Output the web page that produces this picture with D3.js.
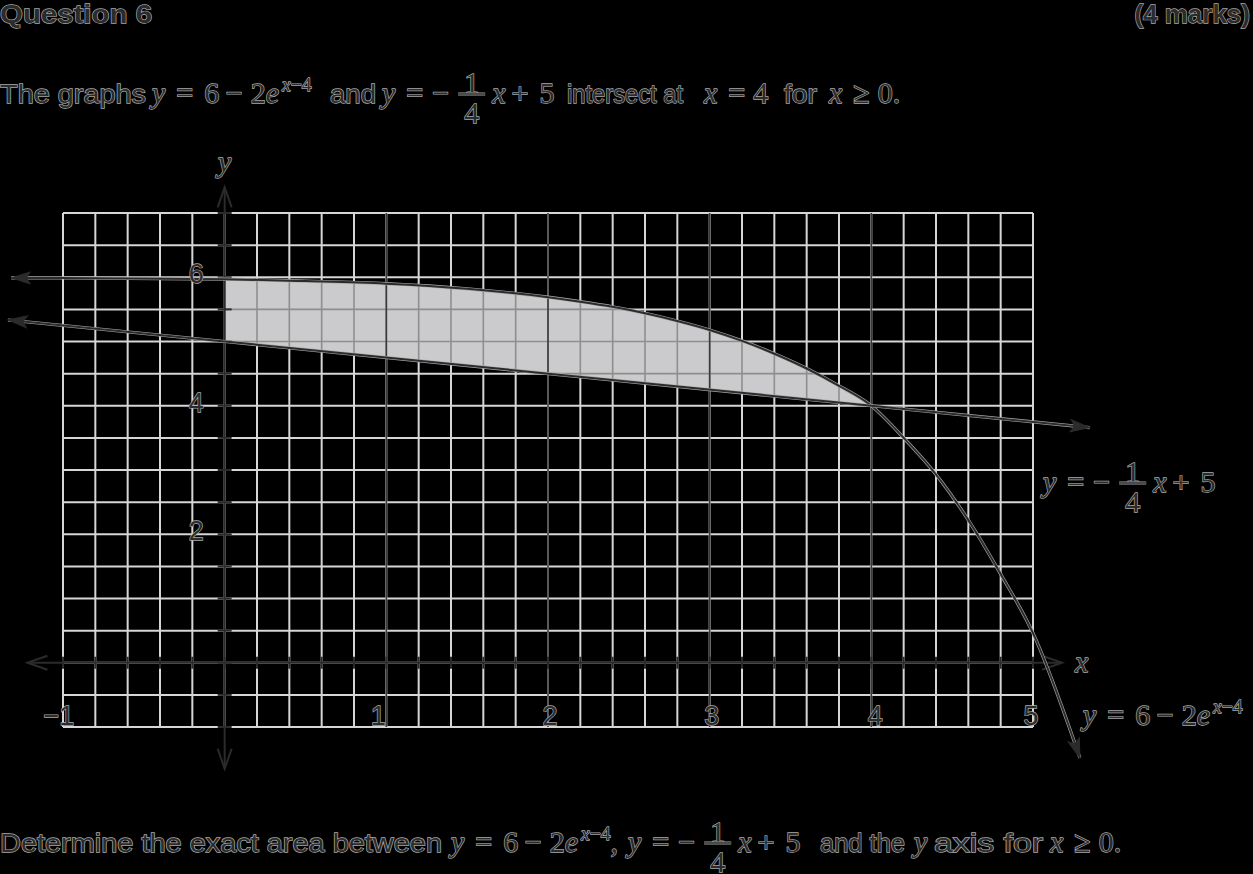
<!DOCTYPE html>
<html><head><meta charset="utf-8">
<script src="https://cdn.jsdelivr.net/npm/d3@7"></script>
<style>
html,body{margin:0;padding:0;background:#000;}
svg{display:block;}
</style></head>
<body>
<svg id="c" width="1253" height="874"></svg>
<script>
// ---------------- data ----------------
// curve y = 6 - 2e^(x-4)
const curveX = [-1.32, -1, 0, 0.5, 1, 1.5, 2, 2.2, 2.4, 2.6, 2.8, 3, 3.2, 3.4, 3.6, 3.8, 4, 4.2, 4.4, 4.6, 4.8, 5, 5.29];
const curveY = [5.99, 5.99, 5.97, 5.94, 5.90, 5.82, 5.69, 5.62, 5.54, 5.44, 5.32, 5.18, 5.01, 4.81, 4.58, 4.31, 4.0, 3.50, 2.93, 2.22, 1.38, 0.46, -1.48];
// line y = -x/4 + 5
const lineX = [-1.34, 0, 4, 5.35];
const lineY = [5.335, 5, 4, 3.66];
// shaded region between the graphs
const shadeFrom = 0, shadeTo = 4;
// axis tick labels
const xTickValues = [-1, 1, 2, 3, 4, 5];
const xTickLabels = ["\u22121", "1", "2", "3", "4", "5"];
const yTickValues = [2, 4, 6];
const yTickLabels = ["2", "4", "6"];
// grid extents / steps
const xDomain = [-1, 5], yDomain = [-1, 7];
const xMinor = 0.2, yMinor = 0.5;

// ---------------- setup ----------------
const svg = d3.select('#c');
const SANS = "'Liberation Sans', Arial, Helvetica, sans-serif";
const SERIF = "'Liberation Serif', 'Times New Roman', serif";
const INK = '#2b2b2b', HALO = '#a9a9a9';
const GRID = '#d6d6d6', GRID_IN = '#8e8e8e', FILL = '#cbcbcd';

svg.append('rect').attr('width', 1253).attr('height', 874).attr('fill', '#000');

const x = d3.scaleLinear().domain(xDomain).range([63, 1033]);
const y = d3.scaleLinear().domain(yDomain).range([727, 213]);

const gridXs = d3.range(Math.round((xDomain[1] - xDomain[0]) / xMinor) + 1).map(i => +(xDomain[0] + i * xMinor).toFixed(4));
const gridYs = d3.range(Math.round((yDomain[1] - yDomain[0]) / yMinor) + 1).map(i => +(yDomain[0] + i * yMinor).toFixed(4));

const defs = svg.append('defs');
function marker(id, path, filled) {
  defs.append('marker').attr('id', id).attr('viewBox', '-22 -9 26 18')
    .attr('refX', 0).attr('refY', 0).attr('markerWidth', 26).attr('markerHeight', 18)
    .attr('markerUnits', 'userSpaceOnUse').attr('orient', 'auto-start-reverse')
    .append('path').attr('d', path)
    .attr('fill', filled ? INK : 'none').attr('stroke', INK).attr('stroke-width', filled ? 1 : 2)
    .attr('stroke-linejoin', 'miter');
}
marker('arrFill', 'M-19,-6 L0,0 L-19,6 L-15,0 Z', true);
marker('arrOpen', 'M-20,-7 L0,0 L-20,7', false);

const gChart = svg.append('g');

// grid (light)
const grid = gChart.append('g');
grid.selectAll('line.v').data(gridXs).join('line').attr('class', 'v')
  .attr('x1', d => x(d)).attr('x2', d => x(d)).attr('y1', y(yDomain[1])).attr('y2', y(yDomain[0]))
  .attr('stroke', GRID).attr('stroke-width', 2);
grid.selectAll('line.h').data(gridYs).join('line').attr('class', 'h')
  .attr('y1', d => y(d)).attr('y2', d => y(d)).attr('x1', x(xDomain[0])).attr('x2', x(xDomain[1]))
  .attr('stroke', GRID).attr('stroke-width', 2);

// shaded region
const curvePts = curveX.map((v, i) => [v, curveY[i]]);
const linePts = lineX.map((v, i) => [v, lineY[i]]);
const topPts = curvePts.filter(p => p[0] >= shadeFrom && p[0] <= shadeTo);
const botPts = linePts.filter(p => p[0] >= shadeFrom && p[0] <= shadeTo).slice().reverse();
const lineGen = d3.line().x(p => x(p[0])).y(p => y(p[1]));
const smooth = d3.line().x(p => x(p[0])).y(p => y(p[1])).curve(d3.curveMonotoneX);
const shadePath = smooth(topPts) + lineGen(botPts).replace('M', 'L') + 'Z';
defs.append('clipPath').attr('id', 'shadeClip').append('path').attr('d', shadePath);
gChart.append('path').attr('d', shadePath).attr('fill', FILL);

// grid inside the shading (darker)
const gridIn = gChart.append('g').attr('clip-path', 'url(#shadeClip)');
gridIn.selectAll('line.v').data(gridXs).join('line')
  .attr('x1', d => x(d)).attr('x2', d => x(d)).attr('y1', y(yDomain[1])).attr('y2', y(yDomain[0]))
  .attr('stroke', GRID_IN).attr('stroke-width', 1.6);
gridIn.selectAll('line.h').data(gridYs).join('line')
  .attr('y1', d => y(d)).attr('y2', d => y(d)).attr('x1', x(xDomain[0])).attr('x2', x(xDomain[1]))
  .attr('stroke', GRID_IN).attr('stroke-width', 1.6);

// integer vertical lines (dark)
gChart.selectAll('line.int').data(xTickValues.filter(v => v > 0 && v < xDomain[1])).join('line').attr('class', 'int')
  .attr('x1', d => x(d)).attr('x2', d => x(d)).attr('y1', y(yDomain[1])).attr('y2', y(yDomain[0]))
  .attr('stroke', '#3a3a3a').attr('stroke-width', 1.6);

// axes
const axes = gChart.append('g');
axes.append('line').attr('x1', x(-1.22)).attr('x2', x(5.18)).attr('y1', y(0)).attr('y2', y(0))
  .attr('stroke', INK).attr('stroke-width', 2)
  .attr('marker-start', 'url(#arrOpen)').attr('marker-end', 'url(#arrOpen)');
axes.append('line').attr('x1', x(0)).attr('x2', x(0)).attr('y1', y(-1.65)).attr('y2', y(7.4))
  .attr('stroke', INK).attr('stroke-width', 2)
  .attr('marker-start', 'url(#arrOpen)').attr('marker-end', 'url(#arrOpen)');
// ticks
axes.selectAll('line.xt').data(gridXs).join('line').attr('class', 'xt')
  .attr('x1', d => x(d)).attr('x2', d => x(d)).attr('y1', y(0) - 6).attr('y2', y(0) + 6)
  .attr('stroke', INK).attr('stroke-width', 2);
axes.selectAll('line.yt').data(gridYs).join('line').attr('class', 'yt')
  .attr('y1', d => y(d)).attr('y2', d => y(d)).attr('x1', x(0) - 7).attr('x2', x(0) + 7)
  .attr('stroke', INK).attr('stroke-width', 2);

// graphs
const gGraph = gChart.append('g');
[[curvePts, smooth], [linePts, lineGen]].forEach(([pts, gen]) => {
  gGraph.append('path').attr('d', gen(pts)).attr('fill', 'none').attr('stroke', HALO).attr('stroke-width', 3.2);
  gGraph.append('path').attr('d', gen(pts)).attr('fill', 'none').attr('stroke', INK).attr('stroke-width', 2)
    .attr('marker-start', 'url(#arrFill)').attr('marker-end', 'url(#arrFill)');
});

// ---------------- text helpers ----------------
function txt(g, tx, ty, s, font, size, opts = {}) {
  const t = g.append('text').attr('x', tx).attr('y', ty)
    .attr('font-family', font === 'sans' ? SANS : SERIF)
    .attr('font-size', size)
    .attr('font-style', font === 'it' ? 'italic' : 'normal')
    .attr('font-weight', opts.bold ? 'bold' : 'normal')
    .attr('fill', INK).attr('stroke', HALO).attr('stroke-width', 1.3).attr('paint-order', 'stroke')
    .attr('text-anchor', opts.anchor || 'start')
    .text(s);
  if (opts.len) t.attr('textLength', opts.len).attr('lengthAdjust', 'spacingAndGlyphs');
  return t;
}
function rich(g, x0, yb, size, segs) {
  let cx = x0;
  segs.forEach(s => {
    const k = s[0];
    if (k === 'gap') { cx += s[1]; return; }
    if (k === 'frac') {
      const w = 27;
      const mid = cx + w / 2;
      const bar = yb - 9;
      txt(g, mid, bar - 1.5, s[1], 'rm', size, { anchor: 'middle' });
      txt(g, mid, bar + 28.5, s[2], 'rm', size, { anchor: 'middle' });
      g.append('line').attr('x1', cx).attr('x2', cx + w).attr('y1', bar).attr('y2', bar)
        .attr('stroke', HALO).attr('stroke-width', 3);
      g.append('line').attr('x1', cx).attr('x2', cx + w).attr('y1', bar).attr('y2', bar)
        .attr('stroke', INK).attr('stroke-width', 1.5);
      cx += w; return;
    }
    if (k === 'sup') {
      s[1].forEach(ss => {
        const t = txt(g, cx, yb - size * 0.4, ss[1], ss[0], size * 0.65);
        cx += t.node().getComputedTextLength();
      });
      return;
    }
    const t = txt(g, cx, yb, s[1], k, size);
    cx += t.node().getComputedTextLength();
  });
  return cx;
}
const MS = 30;      // math size
const REL = 11;     // space around relations
const BIN = 8;      // space around binary operators
const eqExp = [['it', 'y'], ['gap', REL], ['rm', '='], ['gap', REL], ['rm', '6'], ['gap', 6.5], ['rm', '\u2212'], ['gap', BIN], ['rm', '2'], ['it', 'e'], ['gap', 3], ['sup', [['it', 'x'], ['rm', '\u22124']]]];
const eqLinA = [['it', 'y'], ['gap', REL], ['rm', '='], ['gap', 9], ['rm', '\u2212'], ['gap', 9]];
const eqLinB = [['gap', 7], ['it', 'x'], ['gap', 6], ['rm', '+'], ['gap', 11], ['rm', '5']];
const eqLin = eqLinA.concat([['frac', '1', '4']], eqLinB);
const eqRel = (a, r, b) => [['it', a], ['gap', REL], ['rm', r], ['gap', REL - 3], ['rm', b]];

const gText = svg.append('g');
// header
txt(gText, 0, 23, 'Question 6', 'sans', 26, { bold: true, len: 152 });
txt(gText, 1250, 23, '(4 marks)', 'sans', 26, { bold: true, anchor: 'end' });

// first sentence
const B1 = 103, TS = 25;
txt(gText, 0, B1, 'The graphs', 'sans', TS, { len: 146 });
rich(gText, 152, B1, MS, eqExp);
txt(gText, 330, B1, 'and', 'sans', TS, { len: 46 });
rich(gText, 382, B1, MS, eqLin);
txt(gText, 567, B1, 'intersect at', 'sans', TS, { len: 116 });
rich(gText, 704, B1, MS, eqRel('x', '=', '4'));
txt(gText, 784, B1, 'for', 'sans', TS, { len: 33 });
rich(gText, 829, B1, MS, eqRel('x', '\u2265', '0.'));

// last sentence
const B2 = 852;
txt(gText, 0, B2, 'Determine the exact area between', 'sans', TS, { len: 442 });
rich(gText, 451, B2, MS, eqExp.concat([['rm', ',']]));
rich(gText, 628, B2, MS, eqLin);
txt(gText, 820, B2, 'and the', 'sans', TS, { len: 85 });
rich(gText, 914, B2, MS, [['it', 'y']]);
txt(gText, 934, B2, 'axis for', 'sans', TS, { len: 109 });
rich(gText, 1050, B2, MS, eqRel('x', '\u2265', '0.'));

// chart labels
const gLab = svg.append('g');
const xLabDx = [-4, -8, 2, 2, 4, -2];
xTickValues.forEach((v, i) => txt(gLab, x(v) + xLabDx[i], y(-1) - 2, xTickLabels[i], 'sans', 27, { anchor: 'middle' }));
yTickValues.forEach((v, i) => txt(gLab, x(0) - 21, y(v) + 6, yTickLabels[i], 'sans', 27, { anchor: 'end' }));
txt(gLab, x(5.26), y(0) + 9, 'x', 'it', 30);
txt(gLab, x(0), y(7.64), 'y', 'it', 30, { anchor: 'middle' });
rich(gLab, 1043, 492, MS, eqLin);
rich(gLab, 1083, 725, MS, eqExp);
</script>
</body></html>
